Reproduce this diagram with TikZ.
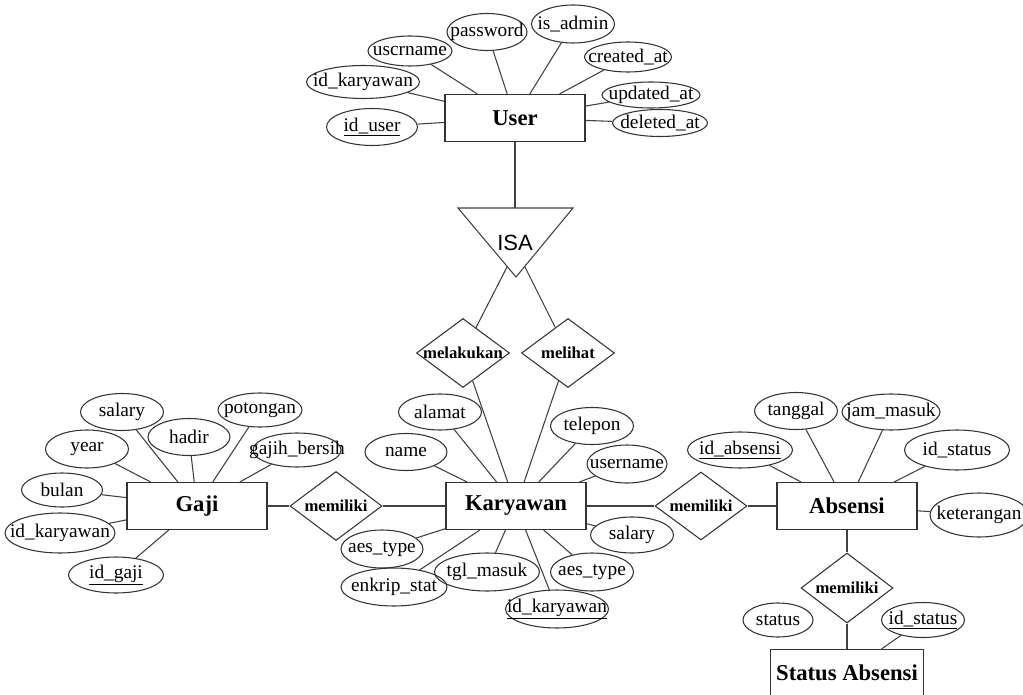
\documentclass[tikz,border=0pt]{standalone}
\usepackage{fontspec}
\setmainfont{Liberation Serif}
\setsansfont{Liberation Sans}
\usetikzlibrary{shapes.geometric}
\newcommand{\lbl}[1]{\makebox[0pt]{#1}}
\begin{document}
\begin{tikzpicture}[x=0.75pt,y=0.75pt,yscale=-1,xscale=1,
  ent/.style 2 args={draw=black!80, line width=0.8pt, rectangle, inner sep=0pt, minimum width=#1*0.75pt, minimum height=#2*0.75pt, font=\fontsize{17}{20}\selectfont\bfseries},
  attr/.style 2 args={draw=black!80, line width=0.8pt, ellipse, inner sep=0pt, minimum width=#1*0.75pt, minimum height=#2*0.75pt, font=\fontsize{14.5}{17}\selectfont},
  rel/.style 2 args={draw=black!80, line width=0.8pt, diamond, inner sep=0pt, minimum width=#1*0.75pt, minimum height=#2*0.75pt, font=\fontsize{12.5}{15}\selectfont\bfseries},
  conn/.style={draw=black!75, line width=0.8pt}]
%set diagram size
\path[use as bounding box] (0,0) rectangle (1023,695);

%Shape: Rectangle (User)
\node[ent={140}{47}] (user) at (515,118) {User};
%Shape: Ellipse
\node[attr={84}{30}] (usrname) at (410,51) {\lbl{uscrname}};
\node[attr={80}{37}] (pass) at (487,32) {\lbl{password}};
\node[attr={83}{38}] (isadm) at (573,24) {\lbl{is\_admin}};
\node[attr={87}{30}] (creat) at (628,57) {\lbl{created\_at}};
\node[attr={113}{33}] (usrkar) at (363,82) {\lbl{id\_karyawan}};
\node[attr={98}{26}] (updat) at (651,95) {\lbl{updated\_at}};
\node[attr={91}{37}] (iduser) at (372,127) {\lbl{\underline{id\_user}}};
\node[attr={95}{27}] (delat) at (660,123) {\lbl{deleted\_at}};

%Straight Lines
\foreach \a in {usrname,pass,isadm,creat,usrkar,updat,iduser,delat}
  \draw[conn] (\a) -- (user);

%Shape: Triangle (ISA)
\coordinate (isaT) at (515,208);
\coordinate (isaL) at (507,267);
\coordinate (isaR) at (525,267);
\draw[conn] (458,208) -- (573,208) -- (516,277) -- cycle;
% Text Node
\node[font=\sffamily\fontsize{16.5}{20}\selectfont, inner sep=0.75pt] (isa) at (515,243) {ISA};
\draw[conn] (user) -- (isaT);

%Shape: Diamond
\node[rel={93}{69}] (lakukan) at (463,353) {\lbl{melakukan}};
\node[rel={93}{69}] (lihat) at (568,353) {\lbl{melihat}};
\draw[conn] (isaL) -- (lakukan);
\draw[conn] (isaR) -- (lihat);

%Shape: Rectangle (Karyawan)
\node[ent={140}{47}] (kary) at (516,506) {Karyawan};
\node[attr={83}{36}] (alamat) at (440,412) {\lbl{alamat}};
\node[attr={82}{37}] (name) at (406,452) {\lbl{name}};
\node[attr={83}{37}] (telp) at (592,426) {\lbl{telepon}};
\node[attr={80}{38}] (kuser) at (627,464) {\lbl{username}};
\node[attr={83}{36}] (ksal) at (632,535) {\lbl{salary}};
\node[attr={83}{38}] (aesr) at (592,572) {\lbl{aes\_type}};
\node[attr={103}{38}] (idkar) at (557,609) {\lbl{\underline{id\_karyawan}}};
\node[attr={105}{38}] (tglm) at (487,572) {\lbl{tgl\_masuk}};
\node[attr={106}{38}] (enkr) at (394,587) {\lbl{enkrip\_stat}};
\node[attr={82}{38}] (aesl) at (382,549) {\lbl{aes\_type}};
\foreach \a in {alamat,name,telp,kuser,ksal,aesr,idkar,tglm,enkr,aesl,lakukan,lihat}
  \draw[conn] (\a) -- (kary);

%Shape: Rectangle (Gaji)
\node[ent={140}{47}] (gaji) at (197,506) {Gaji};
\node[attr={83}{37}] (gsal) at (122,412) {\lbl{salary}};
\node[attr={82}{37}] (hadir) at (189,437) {\lbl{hadir}};
\node[attr={84}{34}] (potong) at (260,410) {\lbl{potongan}};
\node[attr={88}{34}] (bersih) at (297,450) {\lbl{gajih\_bersih}};
\node[attr={83}{38}] (year) at (87,449) {\lbl{year}};
\node[attr={81}{34}] (bulan) at (62,490) {\lbl{bulan}};
\node[attr={110}{40}] (gkar) at (60,533) {\lbl{id\_karyawan}};
\node[attr={95}{36}] (idgaji) at (116,575) {\lbl{\underline{id\_gaji}}};
\foreach \a in {gsal,hadir,potong,bersih,year,bulan,gkar,idgaji}
  \draw[conn] (\a) -- (gaji);

%Shape: Diamond (memiliki)
\node[rel={92}{69}] (mem1) at (336,506) {\lbl{memiliki}};
\node[rel={92}{68}] (mem2) at (701,506) {\lbl{memiliki}};
\draw[conn] (gaji) -- (mem1);
\draw[conn] (mem1) -- (kary);
\draw[conn] (kary) -- (mem2);

%Shape: Rectangle (Absensi)
\node[ent={140}{47}] (absen) at (847,506) {Absensi};
\node[attr={83}{37}] (tgl) at (796,411) {\lbl{tanggal}};
\node[attr={98}{36}] (jamm) at (891,412) {\lbl{jam\_masuk}};
\node[attr={105}{36}] (idabs) at (740,450) {\lbl{\underline{id\_absensi}}};
\node[attr={105}{40}] (astat) at (957,450) {\lbl{id\_status}};
\node[attr={98}{44}] (ket) at (979,515) {\lbl{keterangan}};
\foreach \a in {tgl,jamm,idabs,astat,ket,mem2}
  \draw[conn] (\a) -- (absen);

%Shape: Rectangle (Status Absensi)
\node[rel={92}{70}] (mem3) at (847,588) {\lbl{memiliki}};
\node[ent={153}{47}] (stabs) at (847,673) {Status Absensi};
\node[attr={70}{34}] (status) at (778,620) {\lbl{status}};
\node[attr={83}{35}] (idstat) at (923,620) {\lbl{\underline{id\_status}}};
\draw[conn] (absen) -- (mem3);
\draw[conn] (mem3) -- (stabs);
\draw[conn] (idstat) -- (stabs);

\end{tikzpicture}
\end{document}
